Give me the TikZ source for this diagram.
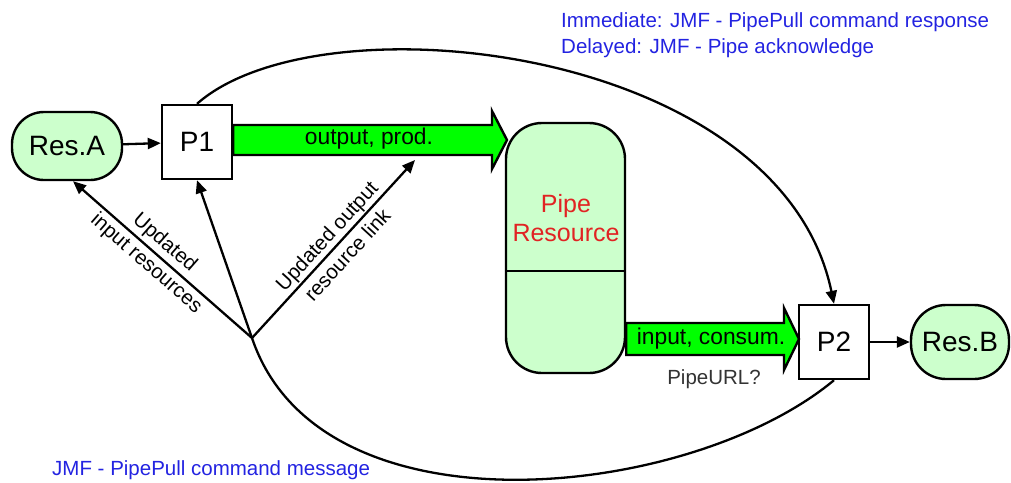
\documentclass[tikz,border=0pt]{standalone}
\usepackage{fontspec}
\setmainfont{Liberation Sans}
\usetikzlibrary{arrows.meta}
\definecolor{resgreen}{RGB}{204,255,204}
\definecolor{flowgreen}{RGB}{0,255,0}
\definecolor{jmfblue}{RGB}{35,35,225}
\definecolor{pipered}{RGB}{225,35,35}

\begin{document}
\begin{tikzpicture}[x=1pt, y=-1pt, >={Triangle[length=13pt,width=11pt]},
  every node/.style={font=\fontsize{20.5}{26}\selectfont},
  res/.style={draw, line width=2.4pt, fill=resgreen, rounded corners=32pt, font=\fontsize{28}{30}\selectfont},
  proc/.style={draw, line width=2.4pt, fill=white, minimum width=70pt, minimum height=74pt, font=\fontsize{28}{30}\selectfont},
  flow/.style={draw, line width=2.4pt, fill=flowgreen, line join=miter},
  flowtext/.style={font=\fontsize{22.8}{26}\selectfont},
  link/.style={->, line width=2.3pt},
  note/.style={text=jmfblue, align=left, inner sep=0pt}]
  \useasboundingbox (0,0) rectangle (1011,482);

  \node[res, minimum width=110pt, minimum height=68pt] (resA) at (67,146) {Res.A};
  \node[proc] (P1) at (197,142) {P1};
  \node[res, minimum width=119pt, minimum height=250pt, rounded corners=36pt] (pipe) at (565.5,248) {};
  \node[text=pipered, align=center, font=\fontsize{25}{29}\selectfont] (pipename) at (566,218) {Pipe\\Resource};
  \node[proc] (P2) at (834,342) {P2};
  \node[res, minimum width=98pt, minimum height=74pt, rounded corners=35pt] (resB) at (960,342) {Res.B};
  \draw[line width=2.4pt] (pipe.west |- 0,271) -- (pipe.east |- 0,271);

  % fat flow arrows
  \draw[flow] (P1.east |- 0,125) -- (492,125) -- (492,111) -- (507,140) -- (492,169) -- (492,155) -- (P1.east |- 0,155) -- cycle;
  \node[flowtext] (out) at (369,139) {output, prod.};
  \draw[flow] (pipe.east |- 0,323) -- (784,323) -- (784,308) -- (799,339) -- (784,370) -- (784,355) -- (pipe.east |- 0,355) -- cycle;
  \node[flowtext] (in) at (711,339) {input, consum.};
  \node[text=black!80] (url) at (714,379) {PipeURL?};

  \draw[link] (resA) -- (P1);
  \draw[link] (P2) -- (resB);
  \draw[link] (P1.north) .. controls (320,-5) and (780,45) .. (P2.north);

  \coordinate (J) at (252,338);
  \coordinate (linkend) at (415,160);
  \draw[line width=2.3pt] (P2.south) .. controls (690,500) and (320,540) .. (J);
  \draw[link] (J) -- (P1.south);
  \draw[link] (J) -- node[sloped, align=center, pos=0.54] {Updated\\[2pt]input resources} ([xshift=6pt]resA.south);
  \draw[link] (J) -- node[sloped, align=center, pos=0.52] {Updated output\\[2pt]resource link} (linkend);

  \node[note, anchor=north west] (resp) at (561,12) {Immediate: JMF - PipePull command response\\Delayed: JMF - Pipe acknowledge};
  \node[note, anchor=west] (msg) at (52,470) {JMF - PipePull command message};
\end{tikzpicture}
\end{document}
